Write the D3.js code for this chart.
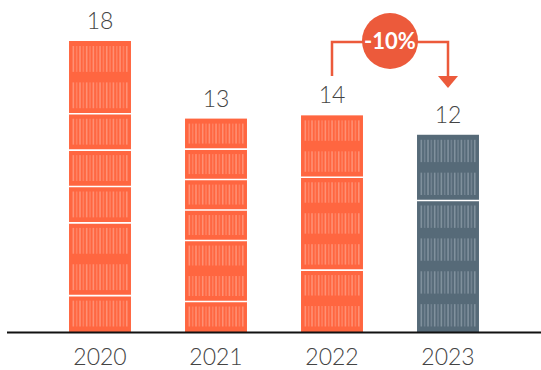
<!DOCTYPE html>
<html>
<head>
<meta charset="utf-8">
<script src="https://cdn.jsdelivr.net/npm/d3@7"></script>
<style>
  body { margin: 0; background: #fff; }
  svg text { font-family: Lato, "Open Sans", sans-serif; }
</style>
</head>
<body>
<svg id="chart" width="541" height="370"></svg>
<script>
// data
years = ["2020", "2021", "2022", "2023"]
values = [18, 13.2, 13.4, 12.2]
valueLabels = ["18", "13", "14", "12"]
// containers stacked in each bar, top to bottom, as counts of stripe rows
containers = [[2, 1, 1, 1, 2, 1], [1, 1, 1, 1, 2, 1], [2, 3, 2], [2, 4]]
changeLabel = "-10%"

var orange = "#ff6640"
var slate = "#566a78"
var accent = "#ec5a3b"

var svg = d3.select("#chart")

var x = d3.scaleBand()
  .domain(years)
  .range([42, 506])
  .paddingInner(0.466)
  .paddingOuter(0.233)

var y = d3.scaleLinear()
  .domain([0, 18])
  .range([332, 41])

var bw = x.bandwidth()

years.forEach(function(yr, i) {
  var g = svg.append("g").attr("transform", "translate(" + x(yr) + ",0)")
  var top = y(values[i]), bottom = y(0)
  var fill = i == 3 ? slate : orange
  var rows = d3.sum(containers[i])
  var rowH = (bottom - top) / rows

  g.append("rect")
    .attr("x", 0).attr("y", top)
    .attr("width", bw).attr("height", bottom - top)
    .attr("fill", fill)

  // stripes in every row
  var nStripes = 17
  var sx = d3.scaleLinear().domain([0, nStripes - 1]).range([3.5, bw - 5])
  for (var r = 0; r < rows; r++) {
    var r0 = top + r * rowH
    for (var s = 0; s < nStripes; s++) {
      g.append("rect")
        .attr("x", sx(s)).attr("y", r0 + 5)
        .attr("width", 1.6).attr("height", rowH - 10.5)
        .attr("fill", i == 3 ? "#a4b0bc" : "#ffb39e")
        .attr("opacity", s % 2 == 0 ? 0.55 : 0.35)
    }
  }

  // white gaps between containers
  var acc = 0
  containers[i].slice(0, -1).forEach(function(c) {
    acc += c
    g.append("line")
      .attr("x1", 0).attr("x2", bw)
      .attr("y1", top + acc * rowH).attr("y2", top + acc * rowH)
      .attr("stroke", "#fff").attr("stroke-width", 1.6)
  })

  svg.append("text")
    .attr("x", x(yr) + bw / 2).attr("y", top - 12)
    .attr("text-anchor", "middle")
    .attr("fill", "#444")
    .style("font-size", "23px").style("font-weight", 300)
    .text(valueLabels[i])
})

// baseline
svg.append("line")
  .attr("x1", 7).attr("x2", 541)
  .attr("y1", y(0) + 0.5).attr("y2", y(0) + 0.5)
  .attr("stroke", "#111").attr("stroke-width", 2)

// year labels
svg.append("g").selectAll("text")
  .data(years).enter().append("text")
  .attr("x", function(d) { return x(d) + bw / 2 })
  .attr("y", 365)
  .attr("text-anchor", "middle")
  .attr("fill", "#444")
  .style("font-size", "23px").style("font-weight", 300)
  .text(function(d) { return d })

// change annotation between 2022 and 2023
var ax1 = x("2022") + bw / 2, ax2 = x("2023") + bw / 2
var ay = 42
svg.append("path")
  .attr("d", "M" + ax1 + ",76 V" + ay + " H" + ax2 + " V78")
  .attr("fill", "none").attr("stroke", accent).attr("stroke-width", 2.5)
svg.append("path")
  .attr("d", "M" + (ax2 - 10) + ",76 L" + (ax2 + 10) + ",76 L" + ax2 + ",88 Z")
  .attr("fill", accent)
svg.append("circle")
  .attr("cx", (ax1 + ax2) / 2).attr("cy", 41).attr("r", 28)
  .attr("fill", accent)
svg.append("text")
  .attr("x", (ax1 + ax2) / 2).attr("y", 49)
  .attr("text-anchor", "middle")
  .attr("fill", "#fff")
  .style("font-size", "22px").style("font-weight", "bold")
  .text(changeLabel)
</script>
</body>
</html>
